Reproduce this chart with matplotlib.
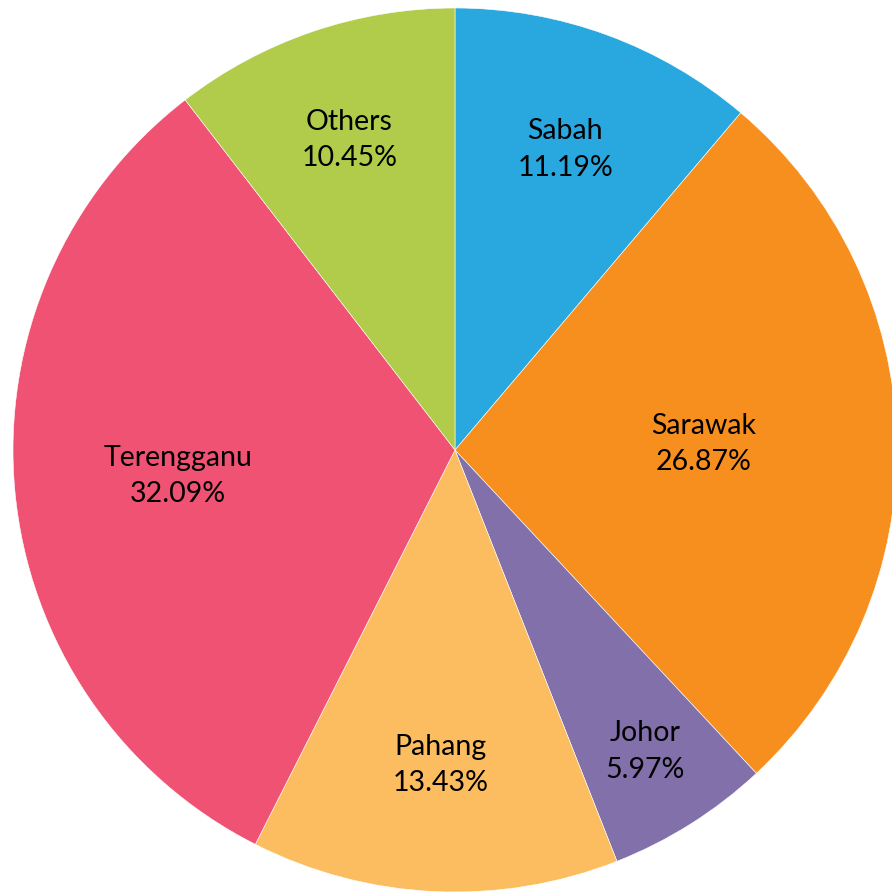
import numpy as np
import matplotlib
matplotlib.use("Agg")
import matplotlib.pyplot as plt

states = ["Sabah", "Sarawak", "Johor", "Pahang", "Terengganu", "Others"]
shares = [11.19, 26.87, 5.97, 13.43, 32.09, 10.45]
colors = ["#29A8E0", "#F78F1F", "#8170AA", "#FBBD5F", "#EF5272", "#B1CB4B"]
label_dist = [0.724, 0.562, 0.807, 0.713, 0.629, 0.741]

W = H = 892
dpi = 100
fig = plt.figure(figsize=(W / dpi, H / dpi), dpi=dpi)
ax = fig.add_axes([0, 0, 1, 1])

cx, cy, R = 455.0, 450.0, 442.0  # pixel layout of the pie
wedges, _ = ax.pie(shares, colors=colors, startangle=90, counterclock=False,
                   radius=1.0, wedgeprops=dict(edgecolor="white", linewidth=0.4))

ax.set_xlim(-cx / R, (W - cx) / R)
ax.set_ylim(-(H - cy) / R, cy / R)
ax.set_aspect("equal")
ax.axis("off")

for w, name, val, d in zip(wedges, states, shares, label_dist):
    ang = np.deg2rad((w.theta1 + w.theta2) / 2)
    x, y = d * np.cos(ang), d * np.sin(ang)
    ax.text(x, y, f"{name}\n{val:.2f}%", ha="center", va="center",
            fontsize=20.5, family=["Lato", "DejaVu Sans"], color="black",
            linespacing=1.5)

fig.savefig("out.png", dpi=dpi)
